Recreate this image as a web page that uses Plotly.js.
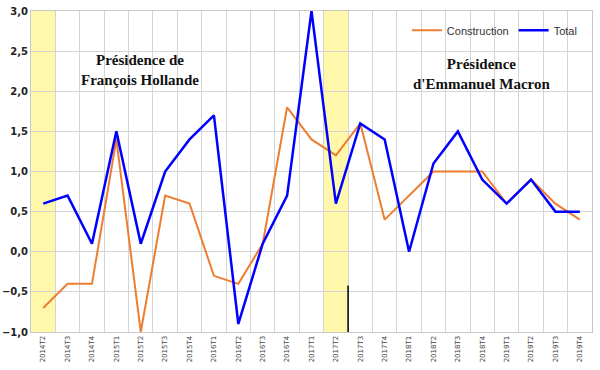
<!DOCTYPE html>
<html><head><meta charset="utf-8">
<script src="https://cdn.plot.ly/plotly-3.0.1.min.js"></script>
<style>html,body{margin:0;padding:0;background:#fff}#c{width:600px;height:370px}</style>
</head><body><div id="c"></div>
<script>
const quarters = ["2014T2","2014T3","2014T4","2015T1","2015T2","2015T3","2015T4","2016T1","2016T2","2016T3","2016T4","2017T1","2017T2","2017T3","2017T4","2018T1","2018T2","2018T3","2018T4","2019T1","2019T2","2019T3","2019T4"];
const construction = [-0.7,-0.4,-0.4,1.4,-1.0,0.7,0.6,-0.3,-0.4,0.1,1.8,1.4,1.2,1.6,0.4,0.7,1.0,1.0,1.0,0.6,0.9,0.6,0.4];
const total = [0.6,0.7,0.1,1.5,0.1,1.0,1.4,1.7,-0.9,0.1,0.7,3.0,0.6,1.6,1.4,0.0,1.1,1.5,0.9,0.6,0.9,0.5,0.5];
const highlighted = ["2014T2","2017T2"];
const hollandeLabel = "Présidence de<br>François Hollande";
const macronLabel = "Présidence<br>d'Emmanuel Macron";

const idx = q => quarters.indexOf(q);
const shapes = highlighted.map(q => ({type:"rect", xref:"x", yref:"paper", x0:idx(q)-0.5, x1:idx(q)+0.5, y0:0, y1:1, fillcolor:"#FFF7AA", line:{width:0}, layer:"below"}));
shapes.push({type:"line", xref:"x", yref:"y", x0:idx("2017T2")+0.5, x1:idx("2017T2")+0.5, y0:-1.0, y1:-0.42, line:{color:"#000", width:1.5}});

const data = [
  {x:quarters, y:construction, type:"scatter", mode:"lines", name:"Construction", line:{color:"#ED7D31", width:2}},
  {x:quarters, y:total, type:"scatter", mode:"lines", name:"Total", line:{color:"#0000FF", width:2.5}}
];
const layout = {
  width:600, height:370,
  margin:{l:31, r:8, t:11, b:38},
  paper_bgcolor:"#fff", plot_bgcolor:"rgba(0,0,0,0)",
  separators:", ",
  showlegend:true,
  legend:{orientation:"h", x:0.67, y:0.985, xanchor:"left", yanchor:"top", bgcolor:"rgba(255,255,255,0)", font:{family:"Liberation Sans, Arial", size:11, color:"#333"}, itemwidth:30, tracegroupgap:0},
  xaxis:{type:"category", tickson:"boundaries", showgrid:true, gridcolor:"#d4d4d4", gridwidth:1, tickangle:-90, tickfont:{family:"DejaVu Sans", size:7, color:"#444"}, ticks:"", showline:true, linecolor:"#c8c8c8", mirror:true, range:[-0.5, quarters.length-0.5], fixedrange:true},
  yaxis:{range:[-1,3], dtick:0.5, tickformat:".1f", showgrid:true, gridcolor:"#d4d4d4", gridwidth:1, zeroline:false, tickfont:{family:"DejaVu Sans", size:10, color:"#222", weight:"bold"}, ticks:"", showline:true, linecolor:"#c8c8c8", mirror:true},
  shapes:shapes,
  annotations:[
    {text:hollandeLabel, xref:"x", yref:"y", x:3.97, y:2.26, showarrow:false, font:{family:"Liberation Serif, DejaVu Serif", size:15, color:"#111", weight:"bold"}, align:"center"},
    {text:macronLabel, xref:"x", yref:"y", x:17.98, y:2.21, showarrow:false, font:{family:"Liberation Serif, DejaVu Serif", size:15, color:"#111", weight:"bold"}, align:"center"}
  ]
};
Plotly.newPlot("c", data, layout, {staticPlot:true});
</script></body></html>
